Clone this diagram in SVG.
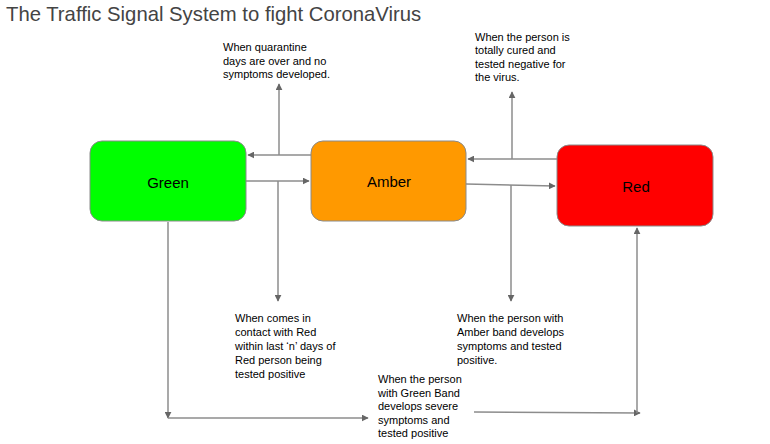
<svg xmlns="http://www.w3.org/2000/svg" width="770" height="444" viewBox="0 0 770 444">
<defs>
<marker id="ah" viewBox="0 0 10 10" refX="9" refY="5" markerWidth="7" markerHeight="7" markerUnits="userSpaceOnUse" orient="auto">
<path d="M0,0 L10,5 L0,10 z" fill="#666"/>
</marker>
</defs>
<style>
.box{stroke:#8a8a8a;stroke-width:1}
.lbl{font-family:"Liberation Sans",Arial,sans-serif;font-size:15px;fill:#000;text-anchor:middle;dominant-baseline:central}
.note{font-family:"Liberation Sans",Arial,sans-serif;font-size:11px;fill:#000}
.ln{fill:none;stroke:#8c8c8c;stroke-width:1.5}
.arr{marker-end:url(#ah)}
</style>
<rect width="770" height="444" fill="#fff"/>
<text x="6" y="21" font-family="'Liberation Sans',Arial,sans-serif" font-size="20.3" fill="#444">The Traffic Signal System to fight CoronaVirus</text>

<g id="connectors">
<path class="ln arr" d="M311,155 L248,155"/>
<path class="ln arr" d="M279,155 L279,84"/>
<path class="ln arr" d="M246,181 L309,181"/>
<path class="ln arr" d="M278,181 L278,301"/>
<path class="ln arr" d="M557,159 L468,159"/>
<path class="ln arr" d="M512,159 L512,92"/>
<path class="ln arr" d="M466,184 L555,186"/>
<path class="ln arr" d="M511,185 L511,301"/>
<path class="ln arr" d="M168,222 L168,418"/>
<path class="ln arr" d="M168,418 L368,418"/>
<path class="ln arr" d="M474,412 L640,413"/>
<path class="ln arr" d="M637,413 L637,228"/>
</g>

<g id="green">
<rect class="box" x="90" y="141" width="156" height="80" rx="12" fill="#00ff00"/>
<text class="lbl" x="168" y="182">Green</text>
</g>
<g id="amber">
<rect class="box" x="311" y="141" width="155" height="80" rx="12" fill="#ff9900"/>
<text class="lbl" x="389" y="181">Amber</text>
</g>
<g id="red">
<rect class="box" x="557" y="145" width="156" height="81" rx="12" fill="#ff0000"/>
<text class="lbl" x="636" y="186">Red</text>
</g>

<g id="note-quarantine">
<text class="note" x="223" y="51">When quarantine</text>
<text class="note" x="223" y="65">days are over and no</text>
<text class="note" x="223" y="78">symptoms developed.</text>
</g>
<g id="note-cured">
<text class="note" x="475" y="41">When the person is</text>
<text class="note" x="475" y="54">totally cured and</text>
<text class="note" x="475" y="68">tested negative for</text>
<text class="note" x="475" y="81">the virus.</text>
</g>
<g id="note-contact">
<text class="note" x="235" y="322">When comes in</text>
<text class="note" x="235" y="336">contact with Red</text>
<text class="note" x="235" y="350">within last ‘n’ days of</text>
<text class="note" x="235" y="364">Red person being</text>
<text class="note" x="235" y="378">tested positive</text>
</g>
<g id="note-amber">
<text class="note" x="457" y="322">When the person with</text>
<text class="note" x="457" y="336">Amber band develops</text>
<text class="note" x="457" y="350">symptoms and tested</text>
<text class="note" x="457" y="364">positive.</text>
</g>
<g id="note-green">
<text class="note" x="378" y="383">When the person</text>
<text class="note" x="378" y="397">with Green Band</text>
<text class="note" x="378" y="410">develops severe</text>
<text class="note" x="378" y="424">symptoms and</text>
<text class="note" x="378" y="437">tested positive</text>
</g>
</svg>
